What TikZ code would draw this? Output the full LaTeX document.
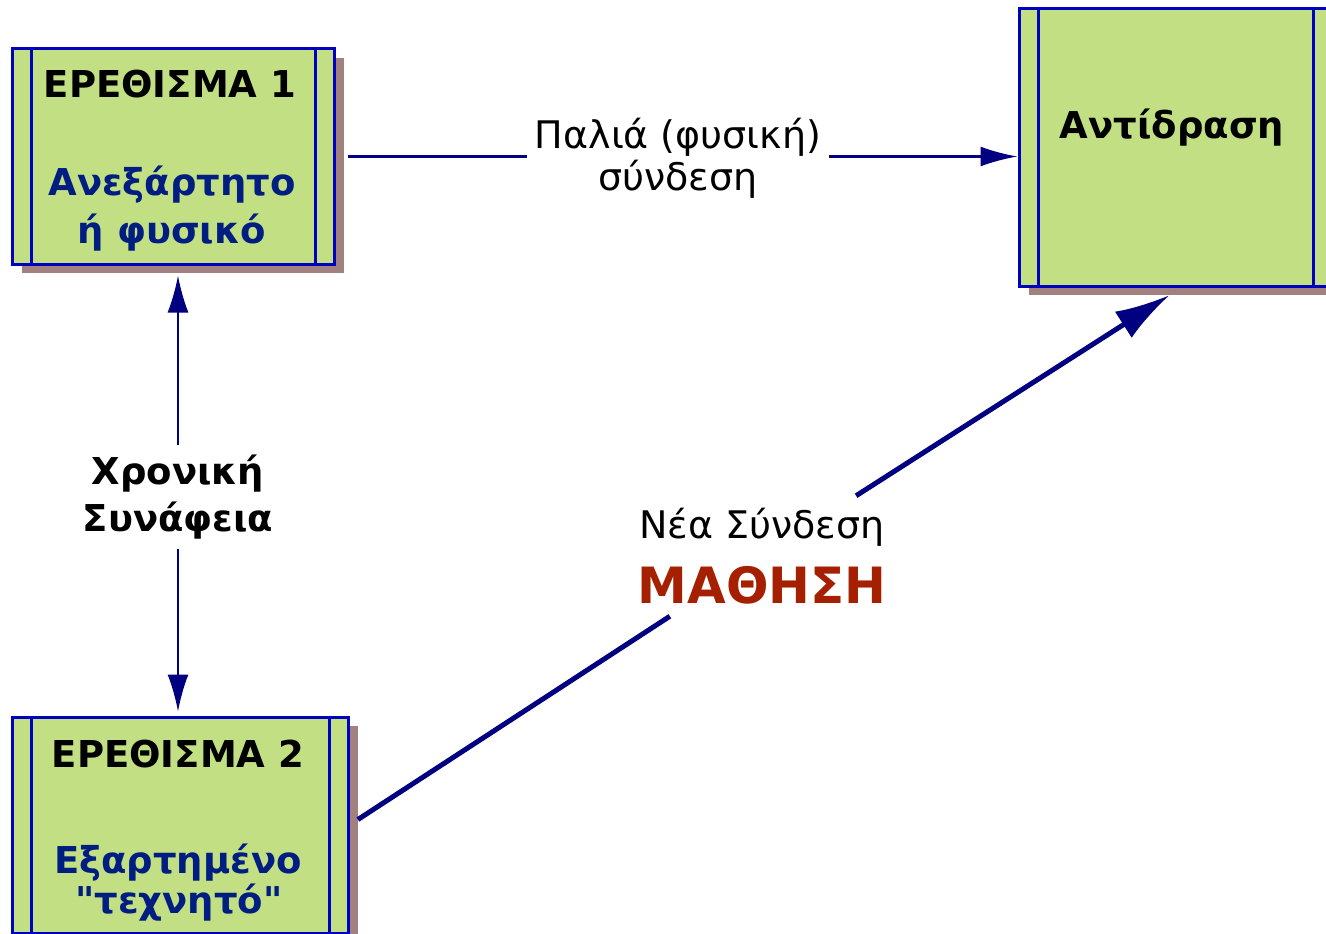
\documentclass[tikz,border=0pt]{standalone}
\usepackage{fontspec}
\setmainfont{DejaVu Sans}[Ligatures=TeXOff]
\usetikzlibrary{arrows.meta,shadows}

\definecolor{boxgreen}{RGB}{194,224,131}
\definecolor{boxblue}{RGB}{0,0,192}
\definecolor{shadowgray}{RGB}{161,128,128}
\definecolor{linknavy}{RGB}{0,0,128}
\definecolor{subblue}{RGB}{0,30,130}
\definecolor{learnred}{RGB}{165,32,0}

\tikzset{
  stimbox/.style={rectangle, draw=boxblue, line width=3pt, fill=boxgreen, inner sep=0pt,
    drop shadow={shadow xshift=10pt, shadow yshift=-9pt, fill=shadowgray, opacity=1},
    path picture={
      \draw[boxblue, line width=3pt] ([xshift=19pt]path picture bounding box.north west) -- ([xshift=19pt]path picture bounding box.south west);
      \draw[boxblue, line width=3pt] ([xshift=-19pt]path picture bounding box.north east) -- ([xshift=-19pt]path picture bounding box.south east);
    }},
  boxtitle/.style={anchor=base, inner sep=0pt, font=\bfseries\fontsize{37}{44}\selectfont},
  boxsub/.style={boxtitle, text=subblue},
  link/.style={draw=linknavy, line width=2.5pt},
}

\begin{document}
\begin{tikzpicture}[x=1pt,y=-1pt]
  \useasboundingbox (0,0) rectangle (1326,934);
  \clip (0,0) rectangle (1326,934);

  % boxes
  \node[stimbox, minimum width=322pt, minimum height=215pt] (e1) at (173,156.5) {};
  \node[stimbox, minimum width=336pt, minimum height=216pt] (e2) at (180,825) {};
  \node[stimbox, minimum width=313pt, minimum height=277pt] (resp) at (1175.5,147.5) {};

  % box texts
  \node[boxtitle] (e1title) at (170,98) {ΕΡΕΘΙΣΜΑ 1};
  \node[boxsub] (e1sub) at (172,195) {Ανεξάρτητο};
  \node[boxsub] (e1sub2) at (172,243) {ή φυσικό};
  \node[boxtitle] (e2title) at (178,767) {ΕΡΕΘΙΣΜΑ 2};
  \node[boxsub] (e2sub) at (178,873) {Εξαρτημένο};
  \node[boxsub] (e2sub2) at (179,913) {"τεχνητό"};
  \node[boxtitle] (resptitle) at (1172,138) {Αντίδραση};

  % labels on the connectors
  \node[align=center, inner sep=8pt, font=\fontsize{38}{42}\selectfont] (old) at (678,158) {Παλιά (φυσική)\\σύνδεση};
  \node[align=center, inner sep=10pt, font=\bfseries\fontsize{37}{47}\selectfont] (time) at (178,497) {Χρονική\\Συνάφεια};
  \node[align=center, inner sep=12pt, font=\fontsize{38}{65}\selectfont] (learn) at (762,556)
    {Νέα Σύνδεση\\{\color{learnred}\bfseries\fontsize{50}{65}\selectfont ΜΑΘΗΣΗ}};

  % connectors
  \draw[link, shorten <=12pt] (e1.east) -- (e1.east -| old.west);
  \draw[link, -{Latex[length=37pt,width=20pt]}] (e1.east -| old.east) -- (e1.east -| resp.west);
  \draw[link, line width=2pt, -{Latex[length=37pt,width=21pt]}, shorten >=10pt] (time) -- (time |- e1.south);
  \draw[link, line width=2pt, -{Latex[length=37pt,width=21pt]}, shorten >=4pt] (time) -- (time |- e2.north);
  \draw[link, line width=5pt, shorten <=10pt] (e2.east) -- (learn);
  \draw[link, line width=5pt, -{Latex[length=55pt,width=31pt]}, shorten >=14pt] (learn) -- ([xshift=6pt]resp.south);
\end{tikzpicture}
\end{document}
